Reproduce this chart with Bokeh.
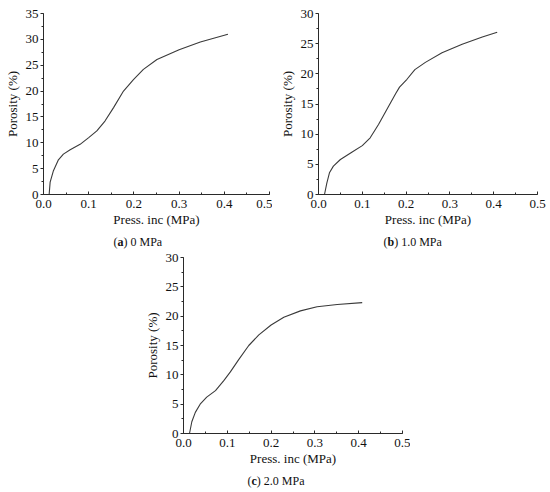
from bokeh.plotting import figure
from bokeh.layouts import column, row
from bokeh.models import Range1d, SingleIntervalTicker, NumeralTickFormatter, Label, Spacer
from bokeh.embed import file_html
from bokeh.resources import INLINE

# ---- data ----
x_a = [0.0125, 0.0147, 0.022, 0.033, 0.044, 0.059, 0.081, 0.100, 0.118, 0.136, 0.155,
       0.177, 0.199, 0.221, 0.251, 0.300, 0.347, 0.408]
y_a = [0.0, 2.4, 4.6, 6.7, 7.8, 8.65, 9.7, 11.0, 12.3, 14.2, 16.8,
       20.0, 22.2, 24.2, 26.1, 28.0, 29.5, 31.0]

x_b = [0.0137, 0.019, 0.025, 0.034, 0.050, 0.076, 0.100, 0.118, 0.137, 0.156, 0.176,
       0.185, 0.202, 0.220, 0.244, 0.282, 0.328, 0.374, 0.408]
y_b = [0.0, 1.9, 3.6, 4.7, 5.8, 7.0, 8.1, 9.4, 11.6, 14.1, 16.7,
       17.8, 19.1, 20.7, 21.9, 23.5, 24.9, 26.1, 26.9]

x_c = [0.0137, 0.019, 0.027, 0.038, 0.053, 0.073, 0.092, 0.107, 0.126, 0.149, 0.172,
       0.200, 0.229, 0.267, 0.305, 0.351, 0.408]
y_c = [0.0, 2.0, 3.6, 5.0, 6.2, 7.3, 9.0, 10.5, 12.6, 15.0, 16.8,
       18.5, 19.8, 20.9, 21.6, 22.0, 22.3]

x_label = "Press. inc (MPa)"
y_label = "Porosity (%)"
cap_letters = ["a", "b", "c"]
cap_texts = [") 0 MPa", ") 1.0 MPa", ") 2.0 MPa"]
y_max = [35, 30, 30]

FONT = "Liberation Serif"
LINE = "#3a3a3a"
AX = "#2a2a2a"
TXT = "#111111"


def make_panel(xs, ys, ymax, width, height, borders):
    left, right, top, bottom = borders
    p = figure(width=width, height=height, output_backend="svg", toolbar_location=None,
               x_range=Range1d(0, 0.5), y_range=Range1d(0, ymax),
               min_border_left=left, min_border_right=right,
               min_border_top=top, min_border_bottom=bottom)
    p.line(xs, ys, line_color=LINE, line_width=1.1)
    p.grid.visible = False
    p.outline_line_color = None
    p.background_fill_color = "white"
    p.border_fill_color = "white"

    xa = p.xaxis[0]
    ya = p.yaxis[0]
    xa.ticker = SingleIntervalTicker(interval=0.1, num_minor_ticks=2)
    ya.ticker = SingleIntervalTicker(interval=5, num_minor_ticks=2)
    xa.formatter = NumeralTickFormatter(format="0.0")
    xa.axis_label = x_label
    ya.axis_label = y_label
    for ax in (xa, ya):
        ax.axis_line_color = AX
        ax.axis_line_width = 1
        ax.major_tick_line_color = AX
        ax.minor_tick_line_color = AX
        ax.major_label_text_font = FONT
        ax.major_label_text_font_size = "13px"
        ax.major_label_text_color = TXT
        ax.axis_label_text_font = FONT
        ax.axis_label_text_font_size = "13px"
        ax.axis_label_text_font_style = "normal"
        ax.axis_label_text_color = TXT
    xa.major_tick_in = 3
    xa.major_tick_out = 0
    xa.minor_tick_in = 2
    xa.minor_tick_out = 0
    xa.major_label_standoff = 5
    xa.axis_label_standoff = 1
    ya.major_tick_in = 0
    ya.major_tick_out = 3
    ya.minor_tick_in = 0
    ya.minor_tick_out = 2
    ya.major_label_standoff = 2
    ya.axis_label_standoff = 3
    return p


def caption(width, height, letter, rest, cap_x, letter_w, y):
    c = figure(width=width, height=height, output_backend="svg", toolbar_location=None,
               x_axis_type=None, y_axis_type=None, min_border=0,
               x_range=Range1d(0, 1), y_range=Range1d(0, 1))
    c.grid.visible = False
    c.outline_line_color = None
    common = dict(x_units="screen", y_units="screen", y=y, text_font=FONT,
                  text_font_size="12px", text_color=TXT,
                  text_baseline="middle", text_align="left")
    c.add_layout(Label(x=cap_x, text="(", **common))
    c.add_layout(Label(x=cap_x + 4, text=letter, text_font_style="bold", **common))
    c.add_layout(Label(x=cap_x + 4 + letter_w, text=rest, **common))
    return c


pa = make_panel(x_a, y_a, y_max[0], 272, 233, (43, 3, 13, 39))
pb = make_panel(x_b, y_b, y_max[1], 278, 233, (46, 13, 13, 39))
cap_a = caption(272, 17, cap_letters[0], cap_texts[0], 113, 6.0, 9)
cap_b = caption(278, 17, cap_letters[1], cap_texts[1], 111, 6.7, 9)

pc = make_panel(x_c, y_c, y_max[2], 270, 222, (43, 8, 7, 39))
cap_c = caption(270, 20, cap_letters[2], cap_texts[2], 107, 5.3, 12)

layout = column(
    row(pa, pb),
    row(cap_a, cap_b),
    row(Spacer(width=140, height=222), pc),
    row(Spacer(width=140, height=20), cap_c),
)

with open("out.html", "w") as f:
    f.write(file_html(layout, INLINE))
